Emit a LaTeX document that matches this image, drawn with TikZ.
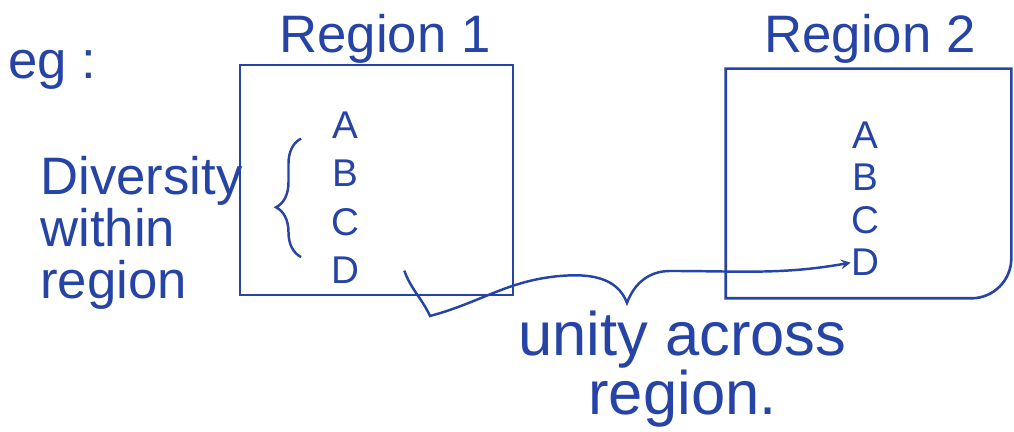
\documentclass[tikz,border=0pt]{standalone}
\usepackage{fontspec}
\setmainfont{Liberation Sans}
\usetikzlibrary{positioning,decorations.pathreplacing}
\definecolor{ink}{RGB}{38,68,165}
\tikzset{
  reg/.style={rectangle,draw=ink,line width=1.5pt,minimum width=5.46cm,minimum height=4.6cm},
  txt/.style={text=ink,font=\fontsize{30}{30}\selectfont,inner sep=0pt},
  ltr/.style={text=ink,font=\fontsize{22}{22}\selectfont,inner sep=0pt},
  arr/.style={->,>=stealth,draw=ink,line width=1.4pt},
  brc/.style={draw=ink,line width=1.4pt,decorate,decoration={brace,amplitude=0.5cm,aspect=0.42}},
}

\begin{document}
\begin{tikzpicture}
  \useasboundingbox (0,0) rectangle (20.28,8.64);
  \node[txt] (eg) at (1.04,7.24) {eg :};
  % the two regions
  \node[reg] (reg1) at (7.53,5.04) {};
  \node[reg,draw=none,minimum width=5.66cm,minimum height=4.54cm] (reg2) at (17.37,4.97) {};
  \draw[ink,line width=1.5pt] (reg2.south west) -- (reg2.north west) -- (reg2.north east) -- ([yshift=0.8cm]reg2.south east) arc[start angle=0,end angle=-90,radius=0.8cm] -- cycle;
  \node[txt,above=0pt of reg1.north,xshift=0.17cm] (lbl1) {Region 1};
  \node[txt,above=0.1cm of reg2.north,xshift=0.03cm] (lbl2) {Region 2};
  % letters
  \node[ltr] (a1) at (6.90,6.14) {A};
  \node[ltr,below=0.42cm of a1] (b1) {B};
  \node[ltr,below=0.42cm of b1] (c1) {C};
  \node[ltr,below=0.42cm of c1] (d1) {D};
  \node[ltr] (a2) at (17.30,5.94) {A};
  \node[ltr,below=0.30cm of a2] (b2) {B};
  \node[ltr,below=0.30cm of b2] (c2) {C};
  \node[ltr,below=0.30cm of c2] (d2) {D};
  \node[txt,align=left,anchor=west,font=\fontsize{30}{29.5}\selectfont] (div) at (0.80,3.98) {Diversity\\within\\region};
  \draw[brc] ([xshift=-0.88cm]d1.north) -- ([xshift=-0.88cm]a1.south);
  % unity across regions
  \coordinate (tip) at (12.54,2.58);
  \draw[arr] ([xshift=0.9cm]d1.east) to[out=-70,in=115] (8.60,2.32) to[out=15,in=185] (11.2,3.12) to[out=5,in=110] (tip) to[out=70,in=180] (13.4,3.22) to[out=0,in=190] (d2.west);
  \node[txt,align=center,font=\fontsize{35}{29}\selectfont] (unity) at (13.65,1.25) {unity across\\region.};
\end{tikzpicture}
\end{document}
